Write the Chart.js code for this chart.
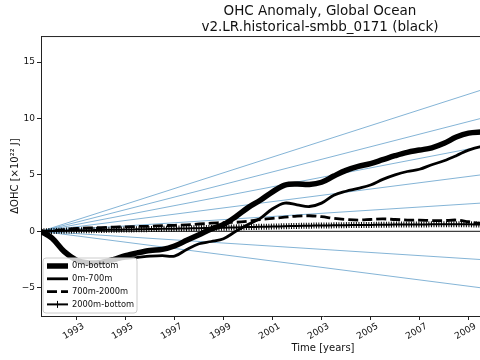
<!DOCTYPE html>
<html>
<head>
<meta charset="utf-8">
<script src="https://cdn.jsdelivr.net/npm/chart.js@4.4.0/dist/chart.umd.min.js"></script>
<style>
  html, body { margin: 0; padding: 0; overflow: hidden; background: #fff; }
</style>
</head>
<body>
<canvas id="ohc" width="640" height="360"></canvas>
<script>
// Data (x10^22 J)
const years = [1991.55, 1992, 1992.5, 1993, 1993.5, 1994, 1994.5, 1995, 1995.5, 1996, 1996.5,
  1997, 1997.5, 1998, 1998.5, 1999, 1999.5, 2000, 2000.5, 2001, 2001.5, 2002, 2002.5,
  2003, 2003.5, 2004, 2004.5, 2005, 2005.5, 2006, 2006.5, 2007, 2007.5, 2008, 2008.5,
  2009, 2009.5, 2010];
const ohcFull = [0, -0.6, -1.8, -2.55, -2.8, -2.75, -2.5, -2.15, -1.9, -1.7, -1.6,
  -1.3, -0.8, -0.3, 0.2, 0.6, 1.3, 2.1, 2.75, 3.5, 4.1, 4.2, 4.15,
  4.35, 4.9, 5.4, 5.75, 6.0, 6.35, 6.7, 7.0, 7.2, 7.4, 7.8, 8.35,
  8.7, 8.8, 8.85];
const ohcUpper = [0, -0.6, -1.8, -2.6, -2.85, -2.8, -2.6, -2.4, -2.3, -2.2, -2.15,
  -2.2, -1.6, -1.1, -0.9, -0.65, 0.0, 0.6, 1.15, 2.0, 2.5, 2.35, 2.2,
  2.5, 3.2, 3.55, 3.8, 4.1, 4.6, 5.0, 5.3, 5.5, 5.9, 6.25, 6.7,
  7.2, 7.5, 7.6];
const ohcMid = [0, 0.05, 0.15, 0.25, 0.3, 0.33, 0.37, 0.4, 0.43, 0.45, 0.5,
  0.53, 0.58, 0.65, 0.72, 0.78, 0.8, 0.9, 1.05, 1.15, 1.25, 1.35, 1.38,
  1.3, 1.15, 1.05, 1.0, 1.05, 1.1, 1.05, 1.0, 1.0, 0.95, 0.95, 1.0,
  0.85, 0.7, 0.65];
const ohcDeep = [0, 0.03, 0.06, 0.09, 0.1, 0.12, 0.14, 0.16, 0.18, 0.2, 0.22,
  0.24, 0.26, 0.28, 0.3, 0.32, 0.35, 0.38, 0.4, 0.42, 0.45, 0.48, 0.5,
  0.52, 0.53, 0.55, 0.56, 0.57, 0.58, 0.6, 0.6, 0.6, 0.62, 0.62, 0.62,
  0.62, 0.6, 0.6];
const seriesNames = ["0m-bottom", "0m-700m", "700m-2000m", "2000m-bottom"];

// reference trend lines: value reached at trendYear
const trendEnds = [12.5, 10, 7.5, 5, 2.5, -2.5, -5];
const trendYear = 2009.5;

const xTicks = [1993, 1995, 1997, 1999, 2001, 2003, 2005, 2007, 2009];
const yTicks = [-5, 0, 5, 10, 15];
const xMin = 1991.55, xMax = 2014.57;
const yMin = -7.5, yMax = 17.3;

const FONT = "'DejaVu Sans', sans-serif";
Chart.defaults.font.family = FONT;
Chart.defaults.color = "#111";

const toPoints = (vals) => vals.map((v, i) => ({ x: years[i], y: v }));

const blackLine = (label, vals, width, extra) => Object.assign({
  label,
  data: toPoints(vals),
  yAxisID: "y",
  borderColor: "#000",
  borderWidth: width,
  pointRadius: 0,
  tension: 0.35,
  fill: false,
}, extra || {});

const datasets = [
  blackLine(seriesNames[0], ohcFull, 5.5),
  blackLine(seriesNames[1], ohcUpper, 2.8),
  blackLine(seriesNames[2], ohcMid, 2.8, { borderDash: [10, 4] }),
  blackLine(seriesNames[3], ohcDeep, 2),
  // '+' markers packed along the deep series look like a hatched band
  blackLine("", ohcDeep, 6, { borderDash: [1, 1.5] }),
  {
    label: "",
    yAxisID: "y",
    data: [{ x: xMin, y: 0 }, { x: xMax, y: 0 }],
    borderColor: "rgba(0,0,0,0.75)",
    borderWidth: 1.2,
    pointRadius: 0,
  },
];

trendEnds.forEach((end) => {
  const slope = end / (trendYear - years[0]);
  datasets.push({
    label: "",
    yAxisID: "y",
    data: [{ x: years[0], y: 0 }, { x: xMax, y: slope * (xMax - years[0]) }],
    borderColor: "rgba(31,119,180,0.55)",
    borderWidth: 1,
    pointRadius: 0,
  });
});

// legend drawn inside the axes, lower left
const legendBox = {
  id: "legendBox",
  afterDraw(chart) {
    const ctx = chart.ctx;
    const { left, bottom } = chart.chartArea;
    const bx = left + 2, by = bottom - 58, bw = 94, bh = 55;
    ctx.save();
    ctx.beginPath();
    ctx.roundRect(bx, by, bw, bh, 3);
    ctx.fillStyle = "rgba(255,255,255,0.8)";
    ctx.fill();
    ctx.strokeStyle = "#cccccc";
    ctx.lineWidth = 1;
    ctx.stroke();

    ctx.font = "8.3px " + FONT;
    ctx.textBaseline = "middle";
    ctx.fillStyle = "#111";
    seriesNames.forEach((name, i) => {
      const ds = chart.data.datasets[i];
      const y = by + 8 + i * 12.8;
      ctx.beginPath();
      ctx.setLineDash(ds.borderDash || []);
      ctx.lineWidth = ds.borderWidth;
      ctx.strokeStyle = "#000";
      ctx.moveTo(bx + 4, y);
      ctx.lineTo(bx + 25, y);
      ctx.stroke();
      if (i === 3) {
        ctx.setLineDash([]);
        ctx.lineWidth = 1;
        ctx.beginPath();
        ctx.moveTo(bx + 14.5, y - 3.5);
        ctx.lineTo(bx + 14.5, y + 3.5);
        ctx.stroke();
      }
      ctx.setLineDash([]);
      ctx.fillText(name, bx + 29, y);
    });
    ctx.restore();
  },
};

// top and right spines
const frame = {
  id: "frame",
  afterDatasetsDraw(chart) {
    const { left, right, top, bottom } = chart.chartArea;
    const ctx = chart.ctx;
    ctx.save();
    ctx.strokeStyle = "#222";
    ctx.lineWidth = 1;
    ctx.beginPath();
    ctx.moveTo(left, top + 0.5);
    ctx.lineTo(right, top + 0.5);
    ctx.lineTo(right, bottom);
    ctx.stroke();
    ctx.restore();
  },
};

new Chart(document.getElementById("ohc"), {
  type: "line",
  data: { datasets },
  options: {
    responsive: false,
    animation: false,
    devicePixelRatio: 1,
    layout: { padding: 0 },
    plugins: {
      legend: { display: false },
      tooltip: { enabled: false },
      title: {
        display: true,
        text: ["OHC Anomaly, Global Ocean", "v2.LR.historical-smbb_0171 (black)"],
        color: "#111",
        font: { size: 13.5, weight: "normal", family: FONT, lineHeight: 1.15 },
        padding: { top: 4, bottom: 1 },
      },
    },
    scales: {
      x: {
        type: "linear",
        min: xMin,
        max: xMax,
        afterBuildTicks: (scale) => { scale.ticks = xTicks.map((v) => ({ value: v })); },
        afterFit: (scale) => { scale.height = 44; },
        grid: { drawOnChartArea: false, drawTicks: true, tickLength: 4, color: "#222" },
        border: { display: true, color: "#222", width: 1 },
        ticks: {
          autoSkip: false,
          minRotation: 30,
          maxRotation: 30,
          padding: 1,
          labelOffset: 7,
          font: { size: 9 },
          callback: (v) => String(v),
        },
        title: {
          display: true,
          text: "Time [years]",
          font: { size: 10 },
          padding: { top: 0, bottom: 6 },
        },
      },
      y: {
        type: "linear",
        min: yMin,
        max: yMax,
        afterBuildTicks: (scale) => { scale.ticks = yTicks.map((v) => ({ value: v })); },
        afterFit: (scale) => { scale.width = 41; },
        grid: { drawOnChartArea: false, drawTicks: true, tickLength: 4, color: "#222" },
        border: { display: true, color: "#222", width: 1 },
        ticks: {
          padding: 2,
          font: { size: 9 },
          callback: (v) => (v < 0 ? "\u2212" + Math.abs(v) : String(v)),
        },
        title: {
          display: true,
          text: "\u0394OHC [\u00d710\u00b2\u00b2 J]",
          font: { size: 10 },
          padding: { top: 9, bottom: 0 },
        },
      },
      // empty right-hand strip: the axes run past the photographed window
      yR: {
        type: "linear",
        position: "right",
        min: 0,
        max: 1,
        afterFit: (scale) => { scale.width = 35; },
        grid: { display: false },
        border: { display: false },
        ticks: { display: false },
      },
    },
  },
  plugins: [legendBox, frame],
});
</script>
</body>
</html>
